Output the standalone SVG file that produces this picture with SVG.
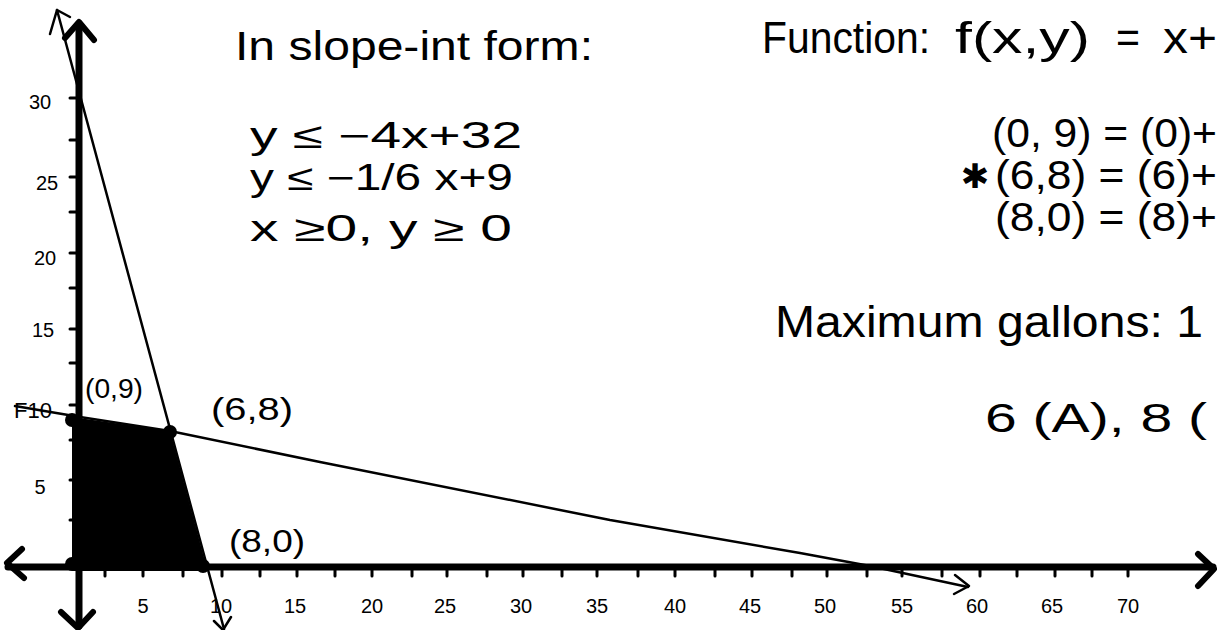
<svg xmlns="http://www.w3.org/2000/svg" width="1217" height="630" viewBox="0 0 1217 630">
<style>
  .ax{stroke:#000;stroke-width:7;fill:none;stroke-linecap:round;stroke-linejoin:round}
  .ah{stroke:#000;stroke-width:6;fill:none;stroke-linecap:round;stroke-linejoin:round}
  .tk{stroke:#000;stroke-width:3;fill:none;stroke-linecap:round}
  .ln{stroke:#000;stroke-width:2.5;fill:none;stroke-linecap:round;stroke-linejoin:round}
  .t{font-family:"Liberation Sans",Arial,sans-serif;fill:#000}
  .num{font-size:20px;text-anchor:middle}
  .big{font-size:40px}
  .hd{font-size:44px}
  .mid{font-size:36px}
  .pt{font-size:32px}
</style>
<rect width="1217" height="630" fill="#fff"/>

<g id="region">
  <polygon points="72,417 170,431 206,565 206,571 72,571" fill="#000"/>
  <circle cx="72" cy="420" r="7" fill="#000"/>
  <circle cx="170" cy="432" r="7" fill="#000"/>
  <circle cx="203" cy="566" r="7" fill="#000"/>
  <circle cx="72" cy="564" r="7" fill="#000"/>
</g>

<g id="axes">
  <line class="ax" x1="79" y1="24" x2="79" y2="626"/>
  <polyline class="ah" points="65,38 79,22 94,40"/>
  <polyline class="ah" points="61,612 78,628 93,612"/>
  <line class="ax" x1="8" y1="567" x2="1213" y2="567"/>
  <polyline class="ah" points="22,549 7,563 24,578"/>
  <polyline class="ah" points="1198,554 1214,569 1198,586"/>
  <path class="tk" d="M70 98h9M70 140h9M70 177h9M70 212h9M70 253h9M70 288h9M70 329h9M70 363h9M70 405h9M70 440h9M70 480h9M70 520h9"/>
  <path class="tk" d="M105 567v9M143 567v9M183 567v9M222 567v9M260 567v9M297 567v9M335 567v9M372 567v9M412 567v9M447 567v9M487 567v9M523 567v9M562 567v9M597 567v9M638 567v9M675 567v9M715 567v9M752 567v9M792 567v9M827 567v9M867 567v9M902 567v9M942 567v9M980 567v9M1017 567v9M1055 567v9M1092 567v9M1128 567v9"/>
</g>

<g id="y-labels" class="t num">
  <text x="40" y="109">30</text>
  <text x="47" y="190">25</text>
  <text x="45" y="265">20</text>
  <text x="43" y="337">15</text>
  <text x="40" y="494">5</text>
</g>
<text class="t" x="14" y="418" font-size="22">F10</text>

<g id="x-labels" class="t num">
  <text x="143" y="613">5</text>
  <text x="221" y="613">10</text>
  <text x="295" y="613">15</text>
  <text x="372" y="613">20</text>
  <text x="445" y="613">25</text>
  <text x="521" y="613">30</text>
  <text x="597" y="613">35</text>
  <text x="675" y="613">40</text>
  <text x="750" y="613">45</text>
  <text x="825" y="613">50</text>
  <text x="902" y="613">55</text>
  <text x="977" y="613">60</text>
  <text x="1052" y="613">65</text>
  <text x="1128" y="613">70</text>
</g>

<g id="connectors">
  <line class="ln" x1="57" y1="10" x2="224" y2="629"/>
  <polyline class="ln" points="50,34 57,10 70,17"/>
  <polyline class="ln" points="214,621 223,630 231,617"/>
  <polyline class="ln" points="15,406 80,417 170,431 320,462 610,520 800,553 870,566 968,587"/>
  <polyline class="ln" points="955,575 969,586 954,594"/>
</g>

<g id="point-labels" class="t">
  <text x="85" y="398" font-size="28" textLength="58" lengthAdjust="spacingAndGlyphs">(0,9)</text>
  <text class="pt" x="211" y="420" textLength="82" lengthAdjust="spacingAndGlyphs">(6,8)</text>
  <text class="pt" x="229" y="552" textLength="76" lengthAdjust="spacingAndGlyphs">(8,0)</text>
</g>

<g id="constraints" class="t">
  <text x="235" y="60" font-size="40" textLength="358" lengthAdjust="spacingAndGlyphs">In slope-int form:</text>
  <text class="mid" x="250" y="148" textLength="272" lengthAdjust="spacingAndGlyphs">y ≤ −4x+32</text>
  <text class="mid" x="250" y="190" textLength="263" lengthAdjust="spacingAndGlyphs">y ≤ −1/6 x+9</text>
  <text class="mid" x="250" y="241" textLength="262" lengthAdjust="spacingAndGlyphs">x ≥0, y ≥ 0</text>
</g>

<g id="evaluation" class="t">
  <text class="hd" x="762" y="53" textLength="168" lengthAdjust="spacingAndGlyphs">Function:</text>
  <text class="hd" x="955" y="53" textLength="135" lengthAdjust="spacingAndGlyphs">f(x,y)</text>
  <text class="hd" x="1116" y="53" textLength="24" lengthAdjust="spacingAndGlyphs">=</text>
  <text class="hd" x="1163" y="53" textLength="54" lengthAdjust="spacingAndGlyphs">x+</text>
  <text class="big" x="992" y="147" textLength="225" lengthAdjust="spacingAndGlyphs">(0, 9) = (0)+</text>
  <text x="975" y="188" font-size="34" font-family="DejaVu Sans" text-anchor="middle">✱</text>
  <text class="big" x="995" y="189" textLength="222" lengthAdjust="spacingAndGlyphs">(6,8) = (6)+</text>
  <text class="big" x="995" y="231" textLength="222" lengthAdjust="spacingAndGlyphs">(8,0) = (8)+</text>
  <text class="hd" x="775" y="337" textLength="428" lengthAdjust="spacingAndGlyphs">Maximum gallons: 1</text>
  <text class="big" x="985" y="432" textLength="222" lengthAdjust="spacingAndGlyphs">6 (A), 8 (</text>
</g>
</svg>
